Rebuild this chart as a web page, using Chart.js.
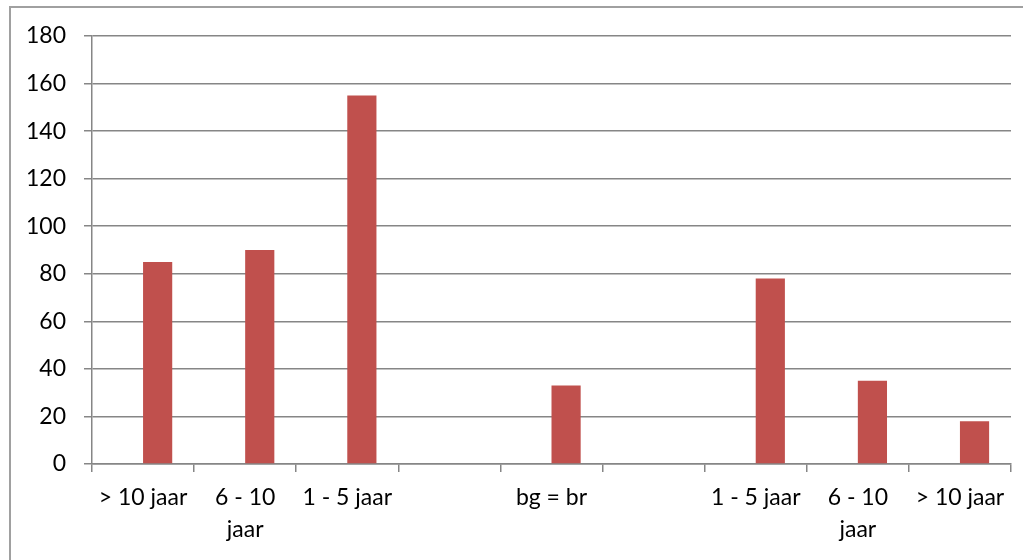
<!DOCTYPE html>
<html>
<head>
<meta charset="utf-8">
<script src="https://cdn.jsdelivr.net/npm/chart.js@4.4.0/dist/chart.umd.min.js"></script>
<style>
  html, body { margin: 0; padding: 0; background: #fff; }
  #wrap { position: relative; width: 1023px; height: 560px; overflow: hidden; }
  #frame { position: absolute; left: 9px; top: 6px; width: 1100px; height: 600px;
           border-top: 2px solid #a0a0a0; border-left: 2px solid #a0a0a0; }
  canvas { position: absolute; left: 0; top: 0; }
</style>
</head>
<body>
<div id="wrap">
  <div id="frame"></div>
  <canvas id="grafico" width="1023" height="560"></canvas>
</div>
<script>
// categorieën en waarden
const categorieen = [
    '> 10 jaar', ['6 - 10', 'jaar'], '1 - 5 jaar',
    '', 'bg = br', '',
    '1 - 5 jaar', ['6 - 10', 'jaar'], '> 10 jaar'
];
const reeksLeeg = [null, null, null, null, null, null, null, null, null];
const reeksWaarden = [85, 90, 155, 0, 33, 0, 78, 35, 18];
const yMin = 0;
const yMax = 180;
const yStap = 20;

const lettertype = { family: 'Lato, Calibri, Carlito, sans-serif', size: 23 };

const ctx = document.getElementById('grafico').getContext('2d');
new Chart(ctx, {
    type: 'bar',
    data: {
        labels: categorieen,
        datasets: [{
            label: 'Reeks 1',
            data: reeksLeeg,
            backgroundColor: '#4F81BD'
        }, {
            label: 'Reeks 2',
            data: reeksWaarden,
            backgroundColor: '#C0504D',
            borderWidth: 0
        }]
    },
    options: {
        responsive: false,
        animation: false,
        devicePixelRatio: 1,
        layout: { padding: { left: 0, right: 12, top: 36, bottom: 0 } },
        datasets: {
            bar: { categoryPercentage: 2 / 3.5, barPercentage: 1 }
        },
        scales: {
            x: {
                grid: {
                    offset: true,
                    drawOnChartArea: false,
                    tickLength: 8,
                    color: '#868686',
                    lineWidth: 1.5
                },
                border: { color: '#868686', width: 1.5 },
                ticks: {
                    color: '#000',
                    font: { ...lettertype, lineHeight: 1.38 },
                    maxRotation: 0,
                    autoSkip: false,
                    padding: 10
                },
                afterFit: (schaal) => { schaal.height = 96; }
            },
            y: {
                min: yMin,
                max: yMax,
                grid: {
                    color: '#868686',
                    lineWidth: 1.5,
                    tickLength: 8
                },
                border: { color: '#868686', width: 1.5 },
                ticks: {
                    stepSize: yStap,
                    color: '#000',
                    font: lettertype,
                    padding: 18
                },
                afterFit: (schaal) => { schaal.width = 92; }
            }
        },
        plugins: {
            legend: { display: false },
            tooltip: { enabled: false }
        }
    }
});
</script>
</body>
</html>
